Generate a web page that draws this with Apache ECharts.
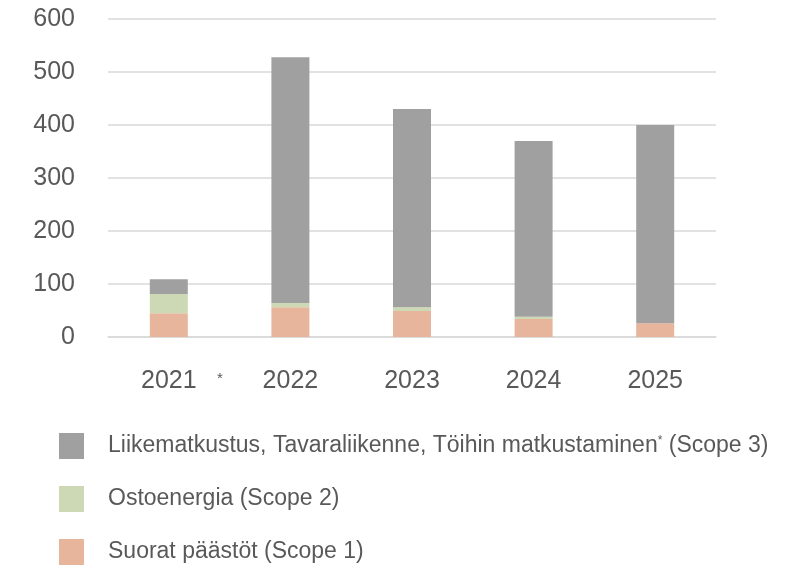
<!DOCTYPE html>
<html>
<head>
<meta charset="utf-8">
<script src="https://cdn.jsdelivr.net/npm/echarts@6/dist/echarts.min.js"></script>
<style>
  html, body { margin: 0; padding: 0; background: #fff; }
  #chart { width: 803px; height: 569px; }
</style>
</head>
<body>
<div id="chart"></div>
<script>
// vuodet
const years = ['2021', '2022', '2023', '2024', '2025']
// päästöt per scope
const scope1 = [45, 56, 49, 34, 26]
const scope2 = [36, 8, 7, 4, 0]
const scope3 = [28, 464, 374, 332, 374]
const yTicks = [0, 100, 200, 300, 400, 500, 600]

const seriesNames = [
  'Suorat päästöt (Scope 1)',
  'Ostoenergia (Scope 2)',
  'Liikematkustus, Tavaraliikenne, Töihin matkustaminen* (Scope 3)'
]
const colors = ['#E6B59C', '#CCD9B4', '#A0A0A0']

const textColor = '#595959'
const font = '"Liberation Sans Narrow", "Liberation Sans", sans-serif'

const chart = echarts.init(document.getElementById('chart'))

const option = {
  animation: false,
  grid: { left: 108, right: 87, top: 19, bottom: 232 },
  xAxis: {
    type: 'category',
    data: years,
    axisTick: { show: false },
    axisLine: { lineStyle: { color: '#d9d9d9', width: 1.5 } },
    axisLabel: { color: textColor, fontSize: 25, fontFamily: font, margin: 32 }
  },
  yAxis: {
    type: 'value',
    min: yTicks[0],
    max: yTicks[yTicks.length - 1],
    interval: 100,
    axisLine: { show: false },
    axisTick: { show: false },
    splitLine: { lineStyle: { color: '#d9d9d9', width: 1.5 } },
    axisLabel: { color: textColor, fontSize: 25, fontFamily: font, margin: 33 }
  },
  legend: {
    orient: 'vertical',
    left: 59,
    top: 433,
    padding: 0,
    height: 136,
    itemWidth: 25,
    itemHeight: 26,
    itemGap: 27,
    icon: 'rect',
    data: [seriesNames[2], seriesNames[1], seriesNames[0]],
    // tähti yläindeksinä
    formatter: (name) => {
      const parts = name.split('*')
      if (parts.length < 2) return name
      return parts[0] + '{sup|*}' + parts[1]
    },
    textStyle: {
      color: textColor,
      fontSize: 23,
      fontFamily: font,
      padding: [0, 0, 0, 19],
      rich: {
        sup: { fontSize: 12, color: textColor, fontFamily: font, verticalAlign: 'top', padding: [0, 0, 8, 0] }
      }
    }
  },
  graphic: [
    {
      type: 'text',
      left: 217,
      top: 371,
      style: { text: '*', fill: textColor, fontSize: 15, fontFamily: font }
    }
  ],
  series: [scope1, scope2, scope3].map((d, i) => ({
    name: seriesNames[i],
    type: 'bar',
    stack: 'total',
    data: d,
    barWidth: 38,
    itemStyle: { color: colors[i] }
  }))
}

chart.setOption(option)
</script>
</body>
</html>
